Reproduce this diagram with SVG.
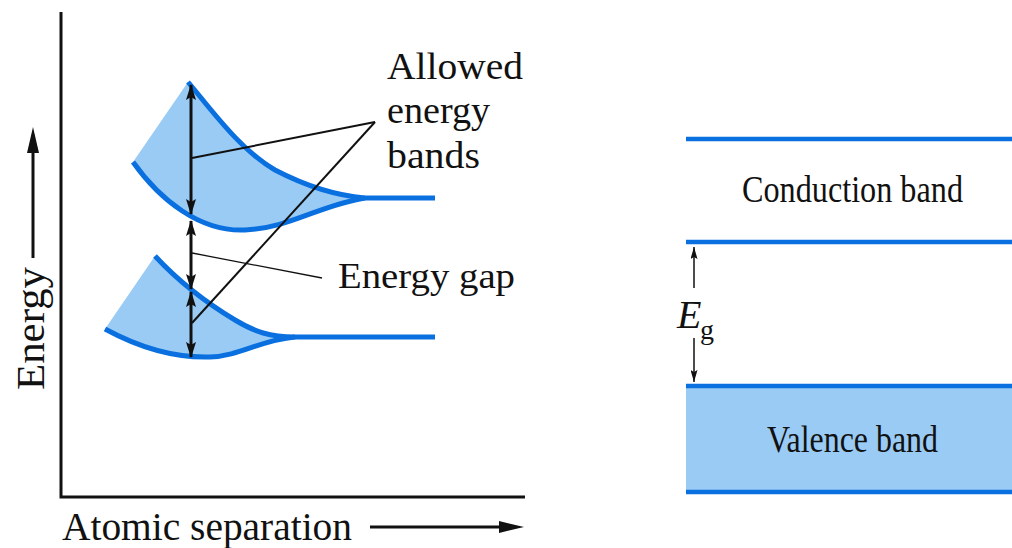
<svg xmlns="http://www.w3.org/2000/svg" width="1012" height="548" viewBox="0 0 1012 548">
<defs>
<style>
.t{font-family:"Liberation Serif","Times New Roman",serif;fill:#111;}
.band{fill:#99cbf5;stroke:none;}
.edge{fill:none;stroke:#0a70df;stroke-width:5;stroke-linecap:butt;stroke-linejoin:round;}
.axis{fill:none;stroke:#111;stroke-width:3;}
.ln{stroke:#111;fill:none;}
.ah{fill:#111;}
.blue{stroke:#0a70df;stroke-width:4.5;}
</style>
<marker id="hd" viewBox="0 0 16 10" refX="15" refY="5" markerWidth="16" markerHeight="10" markerUnits="userSpaceOnUse" orient="auto-start-reverse">
<path d="M0,0 L16,5 L0,10 L3,5 Z" fill="#111"/>
</marker>
<marker id="hs" viewBox="0 0 12 7" refX="12" refY="3.5" markerWidth="12" markerHeight="7" markerUnits="userSpaceOnUse" orient="auto-start-reverse">
<path d="M0,0 L12,3.5 L0,7 L2,3.5 Z" fill="#111"/>
</marker>
</defs>
<rect width="1012" height="548" fill="#fff"/>

<g id="axes">
<path class="axis" d="M61,12 V497 H525"/>
</g>

<g id="energy-axis-label">
<text class="t" font-size="41" transform="translate(44,390) rotate(-90)" textLength="123" lengthAdjust="spacingAndGlyphs">Energy</text>
<line class="ln" x1="33" y1="258" x2="33" y2="150" stroke-width="3"/>
<polygon class="ah" points="33,127 27,153 39,153"/>
</g>

<g id="separation-axis-label">
<text class="t" x="62" y="540" font-size="40" textLength="290" lengthAdjust="spacingAndGlyphs">Atomic separation</text>
<line class="ln" x1="370" y1="527" x2="502" y2="527" stroke-width="3"/>
<polygon class="ah" points="524,527 499,521 499,533"/>
</g>

<g id="upper-band">
<path class="band" d="M133,162 L188,82 C210,108 240,150 275,170 C300,183 330,195 365,198 C320,205 290,228 245,230 C200,232 160,200 133,162 Z"/>
<path class="edge" d="M188,82 C210,108 240,150 275,170 C300,183 330,195 365,198 L435,198"/>
<path class="edge" d="M133,162 C160,200 200,232 245,230 C290,228 320,205 365,198"/>
</g>

<g id="lower-band">
<path class="band" d="M105,329 L155,256 C180,283 210,305 235,320 C255,332 270,337 295,337 C260,340 240,356 210,357 C175,358 140,348 105,329 Z"/>
<path class="edge" d="M155,256 C180,283 210,305 235,320 C255,332 270,337 295,337 L435,337"/>
<path class="edge" d="M105,329 C140,348 175,358 210,357 C240,356 260,340 295,337"/>
</g>

<g id="connectors">
<line class="ln" x1="191" y1="85" x2="191" y2="214" stroke-width="3" marker-start="url(#hd)" marker-end="url(#hd)"/>
<line class="ln" x1="191" y1="221" x2="191" y2="289" stroke-width="3" marker-start="url(#hd)" marker-end="url(#hd)"/>
<line class="ln" x1="191" y1="292" x2="191" y2="357" stroke-width="3" marker-start="url(#hd)" marker-end="url(#hd)"/>
<line class="ln" x1="192" y1="158" x2="375" y2="122" stroke-width="2"/>
<line class="ln" x1="192" y1="323" x2="375" y2="122" stroke-width="2"/>
<line class="ln" x1="192" y1="253" x2="322" y2="278" stroke-width="1.3"/>
<line class="ln" x1="694" y1="288" x2="694" y2="247" stroke-width="1.5" marker-end="url(#hs)"/>
<line class="ln" x1="694" y1="338" x2="694" y2="382" stroke-width="1.5" marker-end="url(#hs)"/>
</g>

<g id="allowed-label">
<text class="t" x="387" y="79" font-size="37" textLength="136" lengthAdjust="spacingAndGlyphs">Allowed</text>
<text class="t" x="387" y="123" font-size="37" textLength="103" lengthAdjust="spacingAndGlyphs">energy</text>
<text class="t" x="387" y="168" font-size="37" textLength="93" lengthAdjust="spacingAndGlyphs">bands</text>
</g>

<g id="gap-label">
<text class="t" x="338" y="288" font-size="36" textLength="177" lengthAdjust="spacingAndGlyphs">Energy gap</text>
</g>

<g id="conduction-band">
<line class="blue" x1="686" y1="139" x2="1012" y2="139"/>
<line class="blue" x1="686" y1="242" x2="1012" y2="242"/>
<text class="t" x="742" y="202" font-size="38" textLength="221" lengthAdjust="spacingAndGlyphs">Conduction band</text>
</g>

<g id="valence-band">
<rect x="686" y="386" width="326" height="106" fill="#99cbf5"/>
<line class="blue" x1="686" y1="386" x2="1012" y2="386"/>
<line class="blue" x1="686" y1="492" x2="1012" y2="492"/>
<text class="t" x="767" y="452" font-size="38" textLength="171" lengthAdjust="spacingAndGlyphs">Valence band</text>
</g>

<g id="eg-label">
<text class="t" x="677" y="328" font-size="40" font-style="italic">E</text>
<text class="t" x="700" y="339" font-size="28">g</text>
</g>
</svg>
